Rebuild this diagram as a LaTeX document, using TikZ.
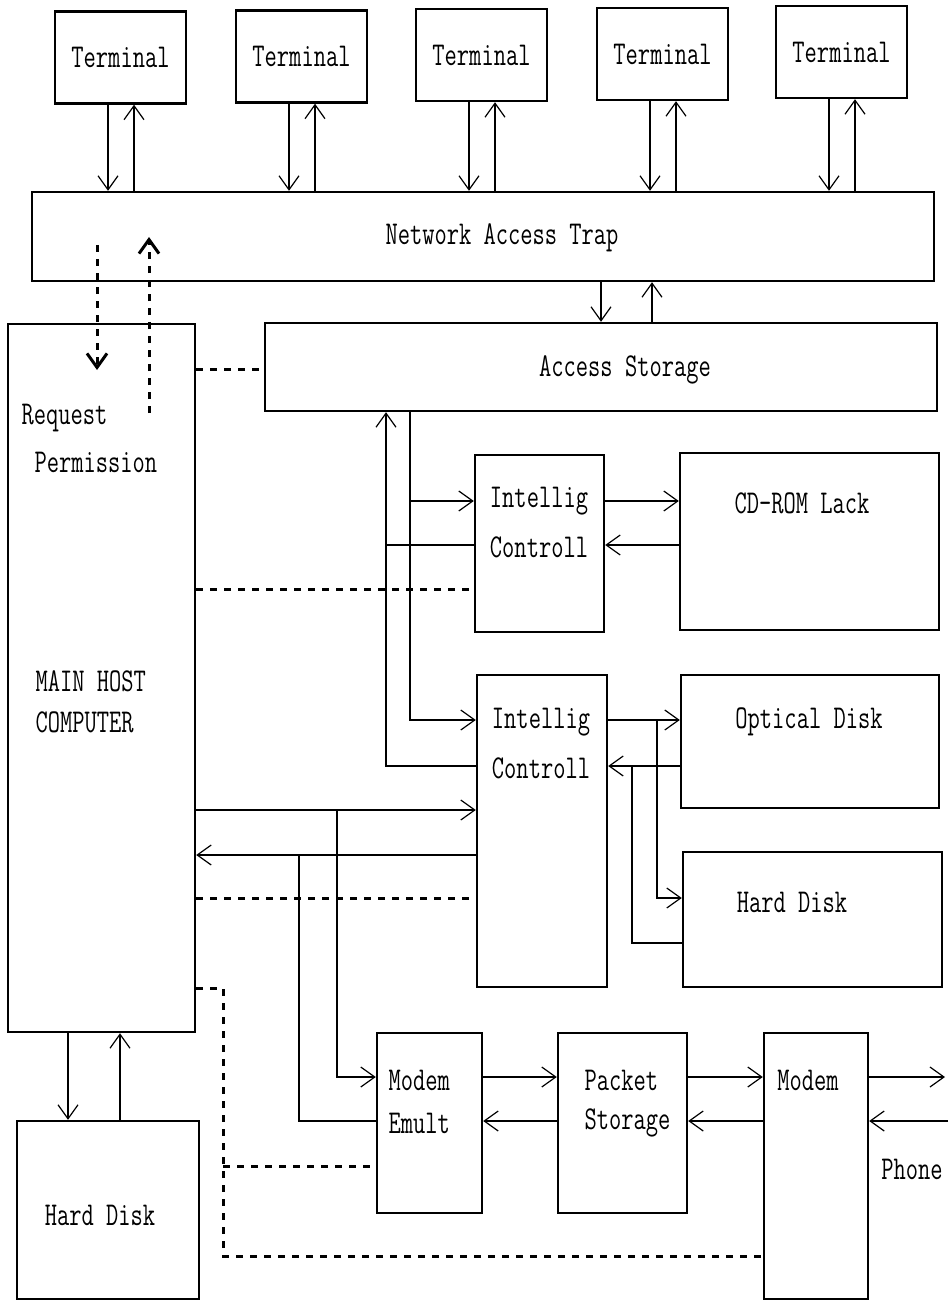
\documentclass[tikz,border=0pt]{standalone}
\usepackage{fontspec}
\usetikzlibrary{arrows.meta}
\newcommand{\tx}[1]{\scalebox{1}[1.4]{#1}}
\tikzset{
  box/.style={draw, line width=1.2pt, inner sep=0pt},
  lbl/.style={font=\fontsize{11.9}{14}\selectfont\ttfamily, inner sep=0pt},
  ctl/.style={line width=1.5pt, dash pattern=on 3.5pt off 3.5pt},
}

\begin{document}
\begin{tikzpicture}[x=0.5pt, y=-0.5pt, line width=0.6pt, >={Straight Barb[length=7pt,width=10pt]}]
\useasboundingbox (0,0) rectangle (948,1300);
\node[box, minimum width=451pt, minimum height=44.5pt] (nat) at (483,236.5) {};
\node[lbl] (natlbl) at (502,238) {\tx{Network Access Trap}};
\foreach \i/\cx/\cy in {1/120.5/57.5, 2/301.5/56.5, 3/481.5/55, 4/662.5/54, 5/841.5/52} {
  \node[box, lbl, minimum width=65.5pt, minimum height=46pt] (t\i) at (\cx,\cy) {\tx{Terminal}};
  \draw[->] ([xshift=-6.25pt]t\i.south) -- ([xshift=-6.25pt]t\i.south |- nat.north);
  \draw[->] ([xshift=6.75pt]t\i.south |- nat.north) -- ([xshift=6.75pt]t\i.south);
}
\node[box, minimum width=336pt, minimum height=44pt] (as) at (601,367) {};
\node[lbl] (aslbl) at (625,370) {\tx{Access Storage}};
\draw[->] (601,0 |- nat.south) -- (601,0 |- as.north);
\draw[->] (652,0 |- as.north) -- (652,0 |- nat.south);

\node[box, minimum width=93.5pt, minimum height=354pt] (mh) at (101.5,678) {};
\node[lbl, anchor=west] (lbreq) at (21,418) {\tx{Request}};
\node[lbl, anchor=west] (lbperm) at (34,462) {\tx{Permission}};
\node[lbl, anchor=west] (lbmain) at (35,681) {\tx{MAIN HOST}};
\node[lbl, anchor=west] (lbcomp) at (35,722) {\tx{COMPUTER}};
\coordinate (rq1) at (97,245); \coordinate (rq2) at (97,370);
\coordinate (pm1) at (149,413); \coordinate (pm2) at (149,237);
\draw[ctl,->] (rq1) -- (rq2);
\draw[ctl,->] (pm1) -- (pm2);

\node[box, minimum width=64.5pt, minimum height=88.5pt] (ic1) at (539.5,543.5) {};
\node[lbl] (ic1a) at (539,501) {\tx{Intellig}};
\node[lbl] (ic1b) at (539,547) {\tx{Controll}};
\node[box, minimum width=129.5pt, minimum height=88.5pt] (cd) at (809.5,541.5) {};
\node[lbl] (cdlbl) at (802,503) {\tx{CD-ROM Lack}};

\node[box, minimum width=65pt, minimum height=156pt] (ic2) at (542,831) {};
\node[lbl] (ic2a) at (541,722) {\tx{Intellig}};
\node[lbl] (ic2b) at (541,768) {\tx{Controll}};
\node[box, minimum width=129pt, minimum height=66.5pt] (opt) at (810,741.5) {};
\node[lbl] (optlbl) at (809,722) {\tx{Optical Disk}};
\node[box, minimum width=129.5pt, minimum height=67.5pt] (hd) at (812.5,919.5) {};
\node[lbl] (hdlbl) at (792,902) {\tx{Hard Disk}};

\node[box, minimum width=52.5pt, minimum height=90pt] (me) at (429.5,1123) {};
\node[lbl, anchor=west] (mea) at (388,1080) {\tx{Modem}};
\node[lbl, anchor=west] (meb) at (388,1123) {\tx{Emult}};
\node[box, minimum width=64.5pt, minimum height=90pt] (ps) at (622.5,1123) {};
\node[lbl, anchor=west] (psa) at (584,1080) {\tx{Packet}};
\node[lbl, anchor=west] (psb) at (584,1123) {\tx{Storage}};
\node[box, minimum width=52pt, minimum height=133pt] (md) at (816,1166) {};
\node[lbl] (mdlbl) at (808,1080) {\tx{Modem}};
\node[lbl] (phone) at (912,1169) {\tx{Phone}};
\node[box, minimum width=91pt, minimum height=89pt] (hd1) at (108,1210) {};
\node[lbl] (hd1lbl) at (100,1215) {\tx{Hard Disk}};

\draw[->] (ic2.west |- 0,766) -- (386,766) -- (386,0 |- as.south);
\draw (ic1.west |- 0,545) -- (386,545);
\draw[->] (410,0 |- as.south) -- (410,720) -- (ic2.west |- 0,720);
\draw[->] (410,501) -- (ic1.west |- 0,501);
\draw[->] (ic1.east |- 0,501) -- (cd.west |- 0,501);
\draw[->] (cd.west |- 0,545) -- (ic1.east |- 0,545);
\draw[->] (ic2.east |- 0,720) -- (opt.west |- 0,720);
\draw[->] (657,720) -- (657,898) -- (hd.west |- 0,898);
\draw[->] (opt.west |- 0,766) -- (ic2.east |- 0,766);
\draw (hd.west |- 0,943) -- (632,943) -- (632,766);
\draw[->] (mh.east |- 0,810) -- (ic2.west |- 0,810);
\draw[->] (337,810) -- (337,1077) -- (me.west |- 0,1077);
\draw[->] (ic2.west |- 0,855) -- (mh.east |- 0,855);
\draw (me.west |- 0,1121) -- (299,1121) -- (299,855);
\draw[->] (me.east |- 0,1077) -- (ps.west |- 0,1077);
\draw[->] (ps.west |- 0,1121) -- (me.east |- 0,1121);
\draw[->] (ps.east |- 0,1077) -- (md.west |- 0,1077);
\draw[->] (md.west |- 0,1121) -- (ps.east |- 0,1121);
\coordinate (phout) at (945,1077); \coordinate (phin) at (948,1121);
\draw[->] (md.east |- phout) -- (phout);
\draw[->] (phin) -- (md.east |- phin);
\draw[->] (68,0 |- mh.south) -- (68,0 |- hd1.north);
\draw[->] (120,0 |- hd1.north) -- (120,0 |- mh.south);

\draw[ctl] (mh.east |- 0,369) -- (as.west |- 0,369);
\draw[ctl] (mh.east |- 0,589) -- (ic1.west |- 0,589);
\draw[ctl] (mh.east |- 0,898) -- (ic2.west |- 0,898);
\draw[ctl] (mh.east |- 0,988) -- (223,988) -- (223,1256) -- (md.west |- 0,1256);
\draw[ctl] (223,1166) -- (me.west |- 0,1166);
\end{tikzpicture}
\end{document}
